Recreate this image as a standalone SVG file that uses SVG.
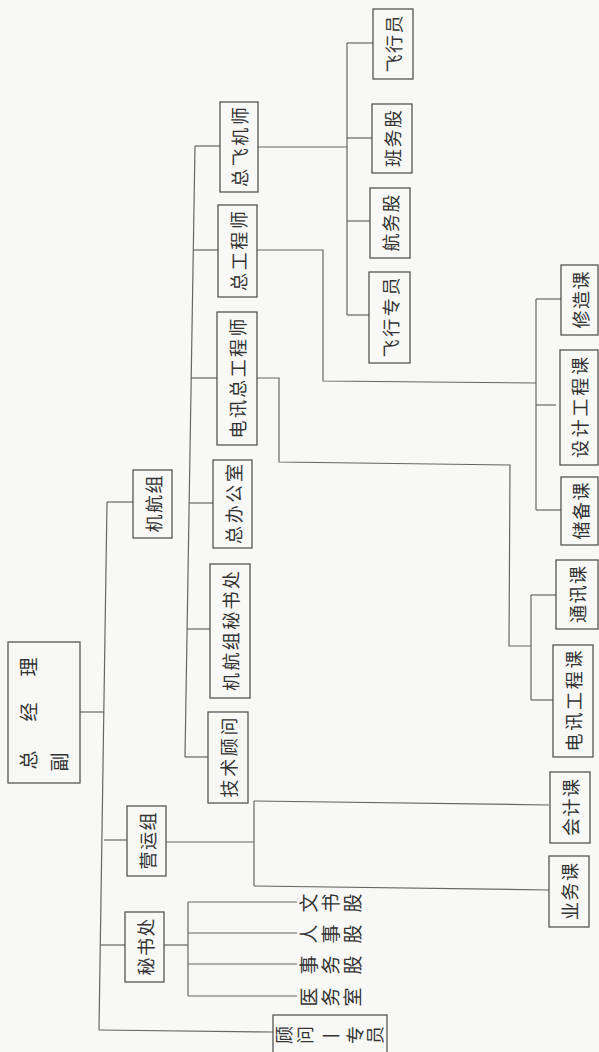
<svg xmlns="http://www.w3.org/2000/svg" width="599" height="1052" viewBox="0 0 599 1052">
<style>
.bg{fill:#f8f8f6}
.box{fill:none;stroke:#555;stroke-width:1.3}
.ln{fill:none;stroke:#666;stroke-width:1.2}
.t{font-family:"Noto Sans CJK SC","Noto Sans CJK TC",sans-serif;font-size:18px;fill:#333;text-anchor:middle;dominant-baseline:central}
.s{font-size:19px}
.l3{letter-spacing:1.5px}
.l4{letter-spacing:2.7px}
.l5{letter-spacing:2.8px}
.l6{letter-spacing:2.4px}
</style>
<rect class="bg" x="0" y="0" width="599" height="1052"/>
<g id="connectors">
<polyline class="ln" points="80,712 104,712"/>
<polyline class="ln" points="107,502 99,1030"/>
<polyline class="ln" points="107,502 133,502"/>
<polyline class="ln" points="104,840 127,840"/>
<polyline class="ln" points="100,945 125,945"/>
<polyline class="ln" points="99,1030 273,1032"/>
<polyline class="ln" points="166,842 254,842"/>
<polyline class="ln" points="254,801 254,886"/>
<polyline class="ln" points="254,801 549,805"/>
<polyline class="ln" points="254,886 549,890"/>
<polyline class="ln" points="164,945 188,945"/>
<polyline class="ln" points="188,902 188,996"/>
<polyline class="ln" points="188,902 297,902"/>
<polyline class="ln" points="188,933 297,933"/>
<polyline class="ln" points="188,964 297,964"/>
<polyline class="ln" points="188,996 297,996"/>
<polyline class="ln" points="195,146 185,757"/>
<polyline class="ln" points="195,146 220,146"/>
<polyline class="ln" points="193,250 218,250"/>
<polyline class="ln" points="191,378 217,378"/>
<polyline class="ln" points="189,503 213,503"/>
<polyline class="ln" points="187,629 210,629"/>
<polyline class="ln" points="185,757 208,757"/>
<polyline class="ln" points="258,147 347,147"/>
<polyline class="ln" points="347,43 347,315"/>
<polyline class="ln" points="347,43 373,43"/>
<polyline class="ln" points="347,138 372,138"/>
<polyline class="ln" points="347,221 370,221"/>
<polyline class="ln" points="347,315 369,315"/>
<polyline class="ln" points="257,250 323,250 323,381 536,383"/>
<polyline class="ln" points="536,299 536,510"/>
<polyline class="ln" points="536,299 561,299"/>
<polyline class="ln" points="536,405 556,405"/>
<polyline class="ln" points="536,510 561,510"/>
<polyline class="ln" points="257,378 279,378 279,462 510,465 509,646 531,646"/>
<polyline class="ln" points="531,595 531,700"/>
<polyline class="ln" points="531,595 556,595"/>
<polyline class="ln" points="531,700 553,700"/>
</g>
<g id="n-zongjingli">
<rect class="box" x="8" y="642" width="72" height="141"/>
<text class="t s" transform="translate(27,760) rotate(-90)">总</text>
<text class="t s" transform="translate(27,712) rotate(-90)">经</text>
<text class="t s" transform="translate(27,667) rotate(-90)">理</text>
<text class="t s" transform="translate(58,762) rotate(-90)">副</text>
</g>
<g id="n-jihangzu">
<rect class="box" x="133" y="470" width="39" height="68"/>
<text class="t l3" x="0.75" transform="translate(152.5,504) rotate(-90)">机航组</text>
</g>
<g id="n-yingyunzu">
<rect class="box" x="127" y="806" width="39" height="70"/>
<text class="t l3" x="0.75" transform="translate(146.5,841) rotate(-90)">营运组</text>
</g>
<g id="n-mishuchu">
<rect class="box" x="125" y="912" width="39" height="70"/>
<text class="t l3" x="0.75" transform="translate(144.5,947) rotate(-90)">秘书处</text>
</g>
<g id="n-jishuguwen">
<rect class="box" x="208" y="712" width="40" height="91"/>
<text class="t l4" x="1.35" transform="translate(228,757.5) rotate(-90)">技术顾问</text>
</g>
<g id="n-jihangzumishuchu">
<rect class="box" x="210" y="564" width="40" height="134"/>
<text class="t l6" x="1.2" transform="translate(230,631) rotate(-90)">机航组秘书处</text>
</g>
<g id="n-zongbangongshi">
<rect class="box" x="213" y="460" width="39" height="88"/>
<text class="t l4" x="1.35" transform="translate(232.5,504) rotate(-90)">总办公室</text>
</g>
<g id="n-dianxunzonggongchengshi">
<rect class="box" x="217" y="312" width="40" height="133"/>
<text class="t l6" x="1.2" transform="translate(237,378.5) rotate(-90)">电讯总工程师</text>
</g>
<g id="n-zonggongchengshi">
<rect class="box" x="218" y="205" width="39" height="92"/>
<text class="t l4" x="1.35" transform="translate(237.5,251) rotate(-90)">总工程师</text>
</g>
<g id="n-zongfeijishi">
<rect class="box" x="220" y="102" width="38" height="90"/>
<text class="t l4" x="1.35" transform="translate(239,147) rotate(-90)">总飞机师</text>
</g>
<g id="n-feixingyuan">
<rect class="box" x="373" y="9" width="40" height="70"/>
<text class="t l3" x="0.75" transform="translate(393,44) rotate(-90)">飞行员</text>
</g>
<g id="n-banwugu">
<rect class="box" x="372" y="104" width="40" height="69"/>
<text class="t l3" x="0.75" transform="translate(392,138.5) rotate(-90)">班务股</text>
</g>
<g id="n-hangwugu">
<rect class="box" x="370" y="188" width="40" height="70"/>
<text class="t l3" x="0.75" transform="translate(390,223) rotate(-90)">航务股</text>
</g>
<g id="n-feixingzhuanyuan">
<rect class="box" x="369" y="272" width="41" height="91"/>
<text class="t l4" x="1.35" transform="translate(389.5,317.5) rotate(-90)">飞行专员</text>
</g>
<g id="n-xiuzaoke">
<rect class="box" x="561" y="265" width="37" height="70"/>
<text class="t l3" x="0.75" transform="translate(579.5,300) rotate(-90)">修造课</text>
</g>
<g id="n-shejigongchengke">
<rect class="box" x="560" y="350" width="38" height="115"/>
<text class="t l5" x="1.4" transform="translate(579,407.5) rotate(-90)">设计工程课</text>
</g>
<g id="n-chubeike">
<rect class="box" x="561" y="477" width="37" height="68"/>
<text class="t l3" x="0.75" transform="translate(579.5,511) rotate(-90)">储备课</text>
</g>
<g id="n-tongxunke">
<rect class="box" x="556" y="560" width="42" height="69"/>
<text class="t l3" x="0.75" transform="translate(577,594.5) rotate(-90)">通讯课</text>
</g>
<g id="n-dianxungongchengke">
<rect class="box" x="553" y="645" width="40" height="112"/>
<text class="t l5" x="1.4" transform="translate(573,701) rotate(-90)">电讯工程课</text>
</g>
<g id="n-kuaijike">
<rect class="box" x="550" y="772" width="40" height="71"/>
<text class="t l3" x="0.75" transform="translate(570,807.5) rotate(-90)">会计课</text>
</g>
<g id="n-yewuke">
<rect class="box" x="549" y="856" width="40" height="71"/>
<text class="t l3" x="0.75" transform="translate(569,891.5) rotate(-90)">业务课</text>
</g>
<g id="n-wenshugu">
<text class="t s" transform="translate(307,903) rotate(-90)">文</text>
<text class="t s" transform="translate(329,903) rotate(-90)">书</text>
<text class="t s" transform="translate(351,903) rotate(-90)">股</text>
</g>
<g id="n-renshigu">
<text class="t s" transform="translate(307,934) rotate(-90)">人</text>
<text class="t s" transform="translate(329,934) rotate(-90)">事</text>
<text class="t s" transform="translate(351,934) rotate(-90)">股</text>
</g>
<g id="n-shiwugu">
<text class="t s" transform="translate(307,965) rotate(-90)">事</text>
<text class="t s" transform="translate(329,965) rotate(-90)">务</text>
<text class="t s" transform="translate(351,965) rotate(-90)">股</text>
</g>
<g id="n-yiwushi">
<text class="t s" transform="translate(307,997) rotate(-90)">医</text>
<text class="t s" transform="translate(329,997) rotate(-90)">务</text>
<text class="t s" transform="translate(351,997) rotate(-90)">室</text>
</g>
<g id="n-guwenzhuanyuan">
<rect class="box" x="273" y="1015" width="114" height="42"/>
<text class="t" transform="translate(283,1035) rotate(-90)">顾</text>
<text class="t" transform="translate(304,1035) rotate(-90)">问</text>
<text class="t" x="331" y="1035">一</text>
<text class="t" transform="translate(354,1035) rotate(-90)">专</text>
<text class="t" transform="translate(374,1035) rotate(-90)">员</text>
</g>
</svg>
